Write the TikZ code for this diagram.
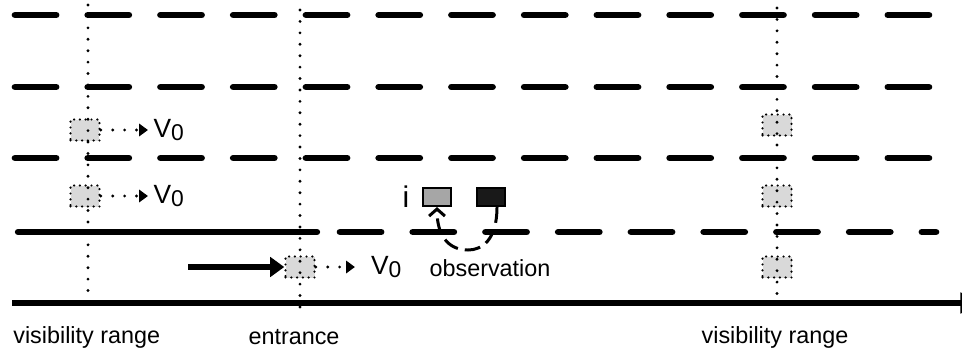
\documentclass[tikz,border=0pt]{standalone}
\usepackage{fontspec}
\setmainfont{Liberation Sans}
\usetikzlibrary{positioning, arrows.meta, calc}
\newcommand{\Vnull}{V\raisebox{-1.8pt}{\fontsize{13}{13}\selectfont 0}}

\begin{document}
\begin{tikzpicture}[x=0.02cm, y=-0.02cm,
    lane/.style={line width=3.8pt, line cap=round, dash pattern=on 23.4pt off 18pt},
    road/.style={line width=3.6pt},
    guide/.style={line width=1.8pt, line cap=round, dash pattern=on 0pt off 6.5pt},
    car/.style={rectangle, draw, fill=black!15, line width=1.4pt, line cap=round, dash pattern=on 0pt off 3.3pt, minimum width=0.58cm, minimum height=0.42cm, inner sep=0pt},
    speed/.style={line width=1.8pt, line cap=round, dash pattern=on 0pt off 6.8pt, -{Triangle[length=5pt, width=7pt]}},
    vel/.style={inner sep=0pt, font=\fontsize{15}{17}\selectfont},
    lbl/.style={inner sep=0pt, font=\fontsize{13.3}{15}\selectfont}]
    \useasboundingbox (0,0) rectangle (962,349);

    % Lanes
    \foreach \y in {15,87,158}
        \draw[lane] (15,\y) -- (936,\y);
    \draw[road, line cap=round] (18,232) -- (317,232);
    \draw[lane] (340,232) -- (936,232);
    \draw[road, -{Triangle[length=14pt, width=11pt]}] (12,303) -- (985,303);

    % Vehicles
    \node[car] (l1) at (85,130) {};
    \node[car] (l2) at (85,196) {};
    \node[car] (en) at (300,267) {};
    \node[car] (r1) at (777,125) {};
    \node[car] (r2) at (777,196) {};
    \node[car] (r3) at (777,267) {};
    \node[rectangle, draw, fill=black!35, line width=0.9pt, minimum width=0.56cm, minimum height=0.37cm] (ci) at (437,197) {};
    \node[rectangle, draw, fill=black!90, line width=0.9pt, minimum width=0.56cm, minimum height=0.37cm] (cj) at (491,197) {};

    % Visibility range and entrance
    \draw[guide] (88,5) -- (88,292);
    \draw[guide] (300,10) -- (300,310);
    \draw[guide] (777,8) -- (777,295);

    % Speeds
    \node[vel, right=1.05cm of l1] (v1) {\Vnull};
    \node[vel, right=1.05cm of l2] (v2) {\Vnull};
    \node[vel, right=1.1cm of en] (v3) {\Vnull};
    \draw[speed, shorten >=3pt] (l1) -- (v1);
    \draw[speed, shorten >=3pt] (l2) -- (v2);
    \draw[speed, shorten >=9pt] (en) -- (v3);

    % Incoming vehicle
    \coordinate (src) at (188,267);
    \draw[line width=3pt, -{Triangle[length=8pt, width=11pt]}] (src) -- (en.west);

    % Observation
    \node[lbl, left=0.25cm of ci, font=\fontsize{17}{17}\selectfont] (il) {i};
    \node[lbl] (obs) at (490,268) {observation};
    \draw[line width=1.7pt, dash pattern=on 9pt off 4pt, -{Straight Barb[length=4pt, width=9pt]}]
        ($(cj.south)+(6,0)$) .. controls (497,240) and (482,250) .. (468,250)
        .. controls (452,250) and (437,240) .. (ci.south);

    % Labels
    \node[lbl, anchor=west] (vr1) at (13,337) {visibility range};
    \node[lbl] (ent) at (294,337) {entrance};
    \node[lbl] (vr2) at (775,337) {visibility range};
\end{tikzpicture}
\end{document}
